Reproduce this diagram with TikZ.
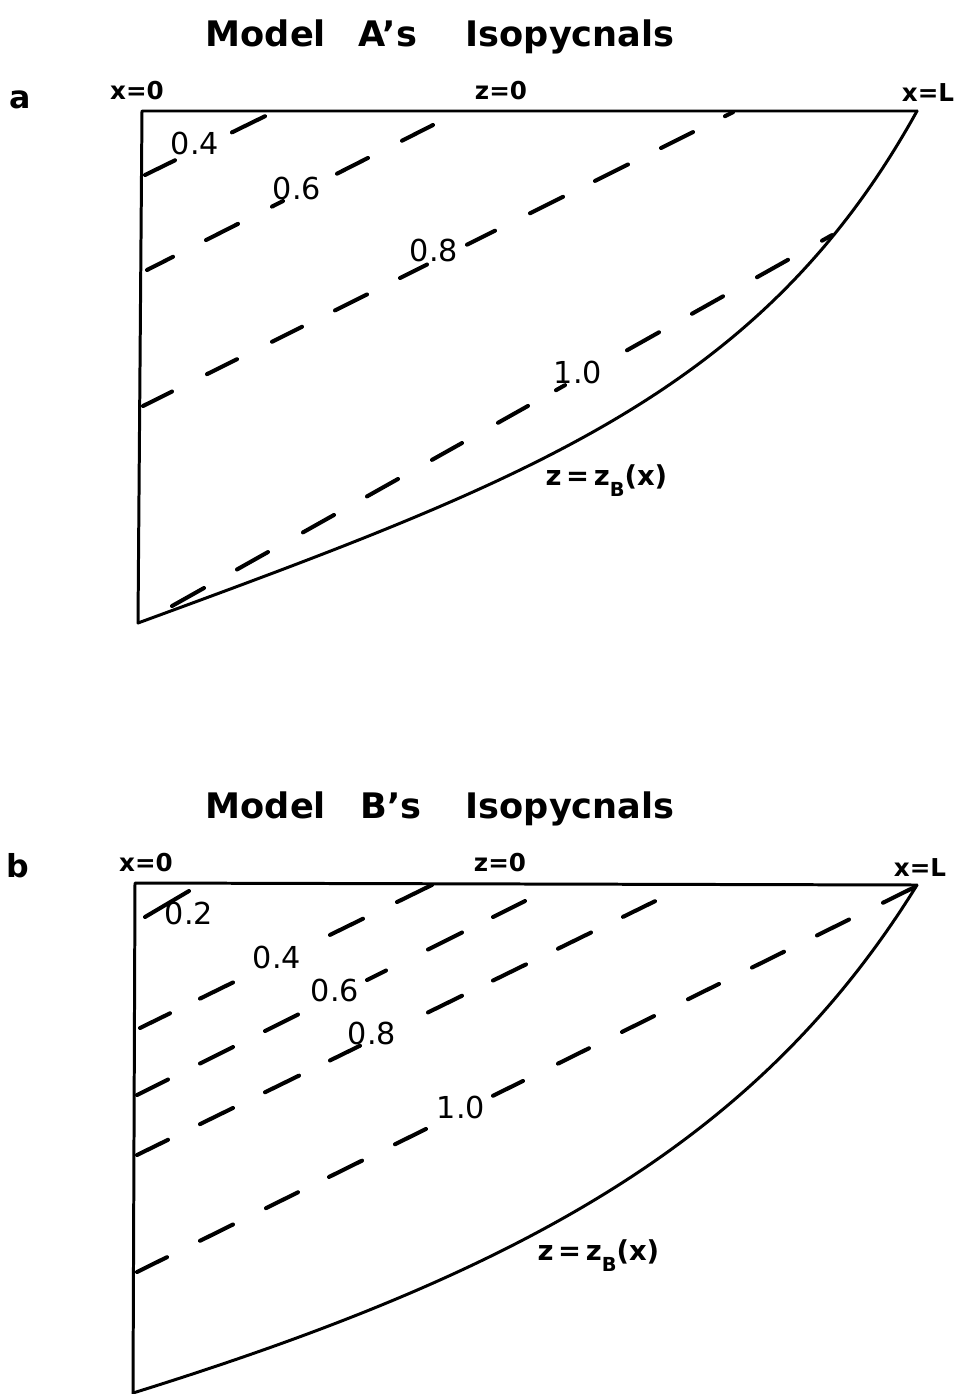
\documentclass[tikz,border=0pt]{standalone}
\usepackage{fontspec}
\setmainfont{DejaVu Sans}
\begin{document}
\begin{tikzpicture}[x=0.01cm,y=-0.01cm,
  border/.style={line width=0.85pt, line join=round, line cap=round},
  iso/.style={line width=1.15pt, line cap=round},
  ttl/.style={anchor=base west, inner sep=0pt, font=\bfseries\fontsize{10}{12}\selectfont},
  bnd/.style={inner sep=0pt, font=\bfseries\fontsize{7}{8}\selectfont},
  isoval/.style={inner sep=0pt, font=\fontsize{8.6}{10}\selectfont},
  panlab/.style={inner sep=0pt, font=\bfseries\fontsize{9}{10}\selectfont},
  bed/.style={anchor=base west, inner sep=0pt, font=\bfseries\fontsize{7.8}{9}\selectfont}]
\path[use as bounding box] (0,0) rectangle (961,1394);

% ---------------- Panel a ----------------
\node[ttl] (tA1) at (205,47) {Model};
\node[ttl] (tA2) at (358,47) {A's};
\node[ttl] (tA3) at (465,47) {Isopycnals};
\node[panlab] (la) at (20,100) {a};

\coordinate (aTL) at (142,111);
\coordinate (aTR) at (917,111);
\coordinate (aB) at (138,623);
\draw[border] (aB) -- (aTL) -- (aTR);
\draw[border] (aTR) .. controls (761,393) and (528,480) .. (aB);

\foreach \p/\q in {145/175,232/265}
  \draw[iso] (\p,{175-0.49*(\p-145)}) -- (\q,{175-0.49*(\q-145)});
\foreach \p/\q in {147/173,206/238,272/283,337/368,402/433}
  \draw[iso] (\p,{270-0.507*(\p-147)}) -- (\q,{270-0.507*(\q-147)});
\foreach \p/\q in {143/172,207/237,272/302,335/367,400/427,467/495,530/563,595/628,661/693,725/733}
  \draw[iso] (\p,{406-0.498*(\p-143)}) -- (\q,{406-0.498*(\q-143)});
\foreach \p/\q in {172/204,237/268,303/334,367/398,432/462,498/528,556/565,627/659,692/723,757/788,822/832}
  \draw[iso] (\p,{606-0.562*(\p-172)}) -- (\q,{606-0.562*(\q-172)});

\node[bnd] (ax0) at (137,91) {x=0};
\node[bnd] (az0) at (501,91) {z=0};
\node[bnd] (axL) at (928,93) {x=L};
\node[isoval] (a04) at (195,143) {0.4};
\node[isoval] (a06) at (297,188) {0.6};
\node[isoval] (a08) at (434,250) {0.8};
\node[isoval] (a10) at (578,372) {1.0};
\node[bed] (azb) at (545,485) {z\,=\,z\raisebox{-3.4pt}{\fontsize{5.5}{6}\selectfont B}(x)};

% ---------------- Panel b ----------------
\node[ttl] (tB1) at (205,818) {Model};
\node[ttl] (tB2) at (360,818) {B's};
\node[ttl] (tB3) at (465,818) {Isopycnals};
\node[panlab] (lb) at (18,866) {b};

\coordinate (bTL) at (135,883);
\coordinate (bTR) at (917,885);
\coordinate (bB) at (133,1393);
\draw[border] (bB) -- (bTL) -- (bTR);
\draw[border] (bTR) .. controls (760,1139) and (525,1271) .. (bB);

\draw[iso] (145,917) -- (189,891);
\foreach \p/\q in {140/170,200/233,330/363,397/432}
  \draw[iso] (\p,{1028-0.49*(\p-140)}) -- (\q,{1028-0.49*(\q-140)});
\foreach \p/\q in {137/168,200/233,265/298,367/386,428/462,493/525}
  \draw[iso] (\p,{1095-0.5*(\p-137)}) -- (\q,{1095-0.5*(\q-137)});
\foreach \p/\q in {137/168,200/233,265/299,330/360,428/462,493/526,558/591,623/655}
  \draw[iso] (\p,{1155-0.49*(\p-137)}) -- (\q,{1155-0.49*(\q-137)});
\foreach \p/\q in {137/167,200/233,266/298,329/362,395/426,493/523,558/589,622/654,688/719,752/784,817/849,883/915}
  \draw[iso] (\p,{1272-0.495*(\p-137)}) -- (\q,{1272-0.495*(\q-137)});

\node[bnd] (bx0) at (146,863) {x=0};
\node[bnd] (bz0) at (500,863) {z=0};
\node[bnd] (bxL) at (920,868) {x=L};
\node[isoval] (b02) at (189,913) {0.2};
\node[isoval] (b04) at (277,957) {0.4};
\node[isoval] (b06) at (335,990) {0.6};
\node[isoval] (b08) at (372,1033) {0.8};
\node[isoval] (b10) at (461,1107) {1.0};
\node[bed] (bzb) at (537,1260) {z\,=\,z\raisebox{-3.4pt}{\fontsize{5.5}{6}\selectfont B}(x)};
\end{tikzpicture}
\end{document}
